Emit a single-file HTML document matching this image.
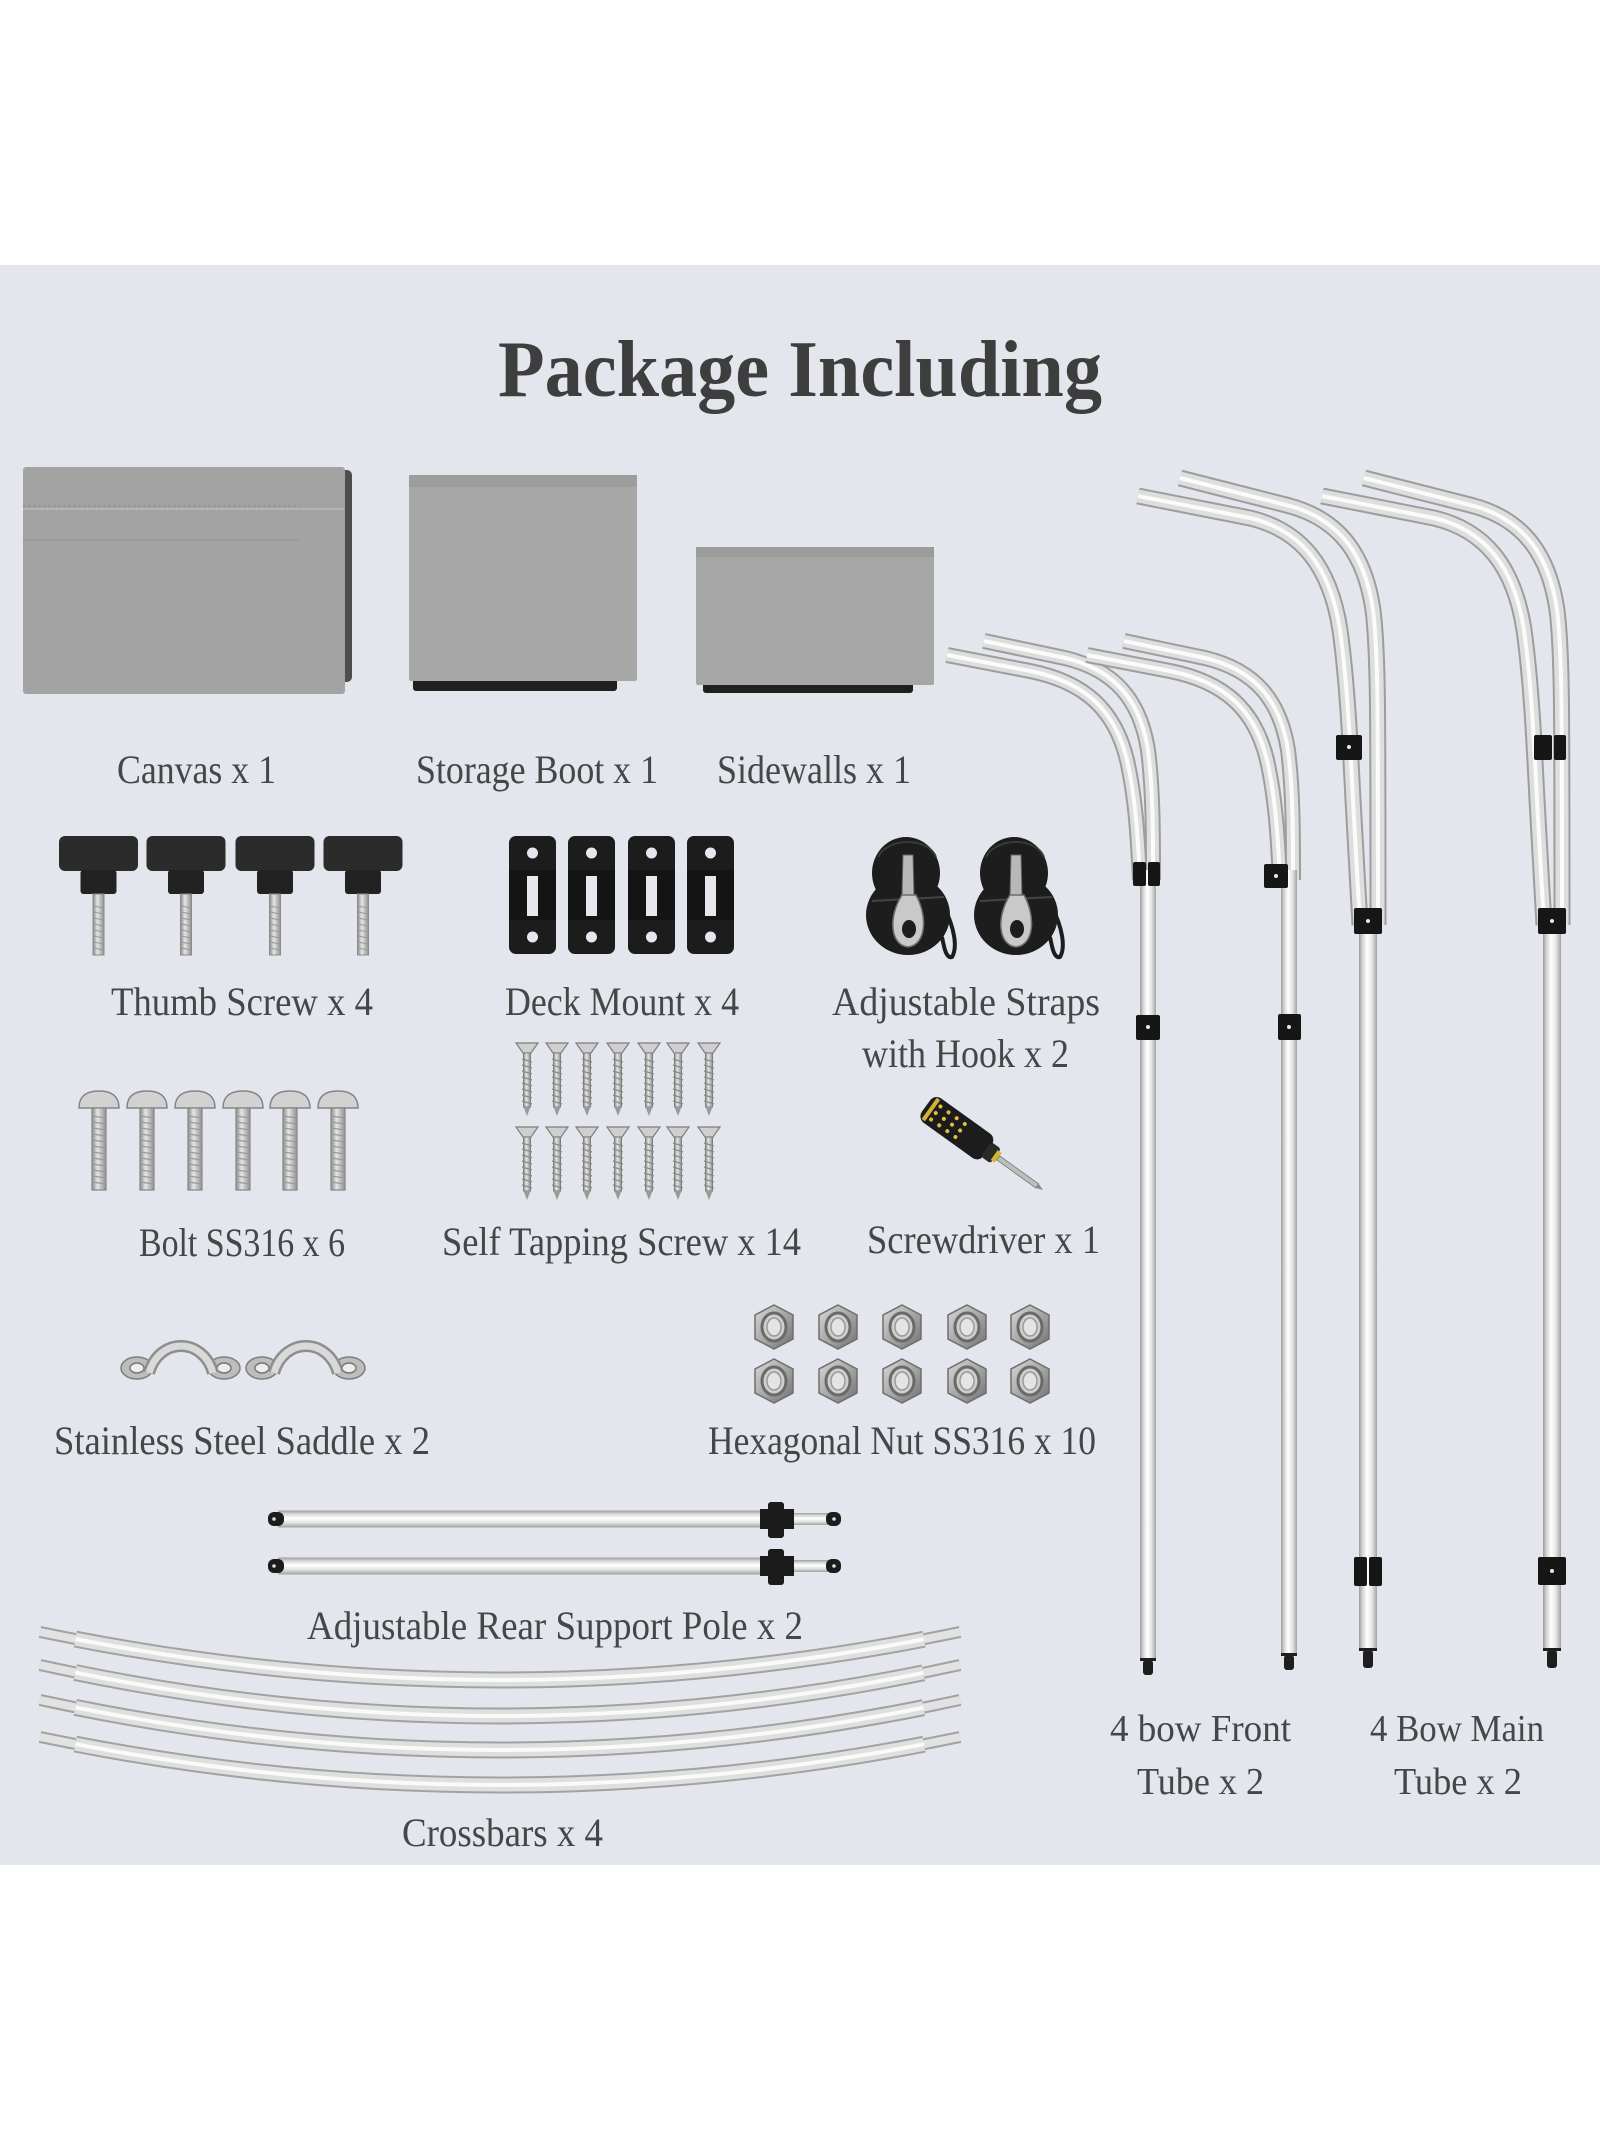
<!DOCTYPE html>
<html>
<head>
<meta charset="utf-8">
<style>
html,body{margin:0;padding:0;background:#ffffff;}
svg{display:block;}
</style>
</head>
<body>
<svg width="1600" height="2133" viewBox="0 0 1600 2133" xmlns="http://www.w3.org/2000/svg">
<defs>
  <linearGradient id="pg" x1="0" y1="0" x2="1" y2="0">
    <stop offset="0" stop-color="#9c9c9c"/>
    <stop offset="0.2" stop-color="#d4d4d4"/>
    <stop offset="0.45" stop-color="#ffffff"/>
    <stop offset="0.72" stop-color="#e4e4e4"/>
    <stop offset="1" stop-color="#a2a2a2"/>
  </linearGradient>
  <linearGradient id="hg" x1="0" y1="0" x2="0" y2="1">
    <stop offset="0" stop-color="#9c9c9c"/>
    <stop offset="0.2" stop-color="#d6d6d6"/>
    <stop offset="0.45" stop-color="#ffffff"/>
    <stop offset="0.72" stop-color="#e2e2e2"/>
    <stop offset="1" stop-color="#a0a0a0"/>
  </linearGradient>
  <linearGradient id="ng" x1="0" y1="0" x2="1" y2="1">
    <stop offset="0" stop-color="#d8d8d8"/>
    <stop offset="0.5" stop-color="#a8a8a8"/>
    <stop offset="1" stop-color="#6f6f6f"/>
  </linearGradient>
  <linearGradient id="sg" x1="0" y1="0" x2="1" y2="0">
    <stop offset="0" stop-color="#8a8a8a"/>
    <stop offset="0.4" stop-color="#e6e6e6"/>
    <stop offset="1" stop-color="#909090"/>
  </linearGradient>

  <!-- tube paths -->
  <path id="i1" d="M984 641 L1065 658 C1115 670 1140 700 1148 750 C1153 790 1153 830 1153 880"/>
  <path id="o1" d="M947 655 L1030 671 C1085 682 1115 710 1127 760 C1136 800 1138 840 1140 880"/>
  <path id="i2" d="M1124 641 L1205 658 C1255 670 1280 700 1288 750 C1293 790 1293 830 1293 880"/>
  <path id="o2" d="M1087 655 L1170 671 C1225 682 1255 710 1267 760 C1276 800 1278 840 1280 880"/>
  <path id="i3" d="M1180 478 L1290 506 C1340 520 1365 555 1373 610 C1378 650 1378 700 1378 925"/>
  <path id="o3" d="M1138 496 L1250 518 C1300 530 1330 565 1340 630 C1347 680 1350 740 1353 800 L1360 925"/>
  <path id="i4" d="M1364 478 L1474 506 C1524 520 1549 555 1557 610 C1562 650 1562 700 1562 925"/>
  <path id="o4" d="M1322 496 L1434 518 C1484 530 1514 565 1524 630 C1531 680 1534 740 1537 800 L1544 925"/>

  <path id="cb1" d="M40 1632 Q500 1728 960 1632"/>
  <path id="cb2" d="M40 1665 Q500 1767 960 1665"/>
  <path id="cb3" d="M40 1700 Q500 1800 960 1700"/>
  <path id="cb4" d="M40 1737 Q500 1833 960 1737"/>

  <!-- self tapping screw -->
  <g id="sts">
    <path d="M-11 0 L11 0 L4 10 L-4 10 Z" fill="#cfcfcf" stroke="#7e7e7e" stroke-width="1.2"/>
    <rect x="-3.5" y="10" width="7" height="54" fill="url(#sg)" stroke="#7e7e7e" stroke-width="1"/>
    <path d="M-5 16 L5 19 M-5 22 L5 25 M-5 28 L5 31 M-5 34 L5 37 M-5 40 L5 43 M-5 46 L5 49 M-5 52 L5 55 M-5 58 L5 61" stroke="#8a8a8a" stroke-width="1.2"/>
    <path d="M-3.5 64 L0 73 L3.5 64 Z" fill="#9a9a9a"/>
  </g>
  <!-- bolt -->
  <g id="bolt">
    <path d="M-20 17 Q-20 0 0 0 Q20 0 20 17 Z" fill="#d2d2d2" stroke="#858585" stroke-width="1.5"/>
    <rect x="-7" y="17" width="14" height="82" fill="url(#sg)" stroke="#858585" stroke-width="1.2"/>
    <path d="M-7 25 L7 27 M-7 31 L7 33 M-7 37 L7 39 M-7 43 L7 45 M-7 49 L7 51 M-7 55 L7 57 M-7 61 L7 63 M-7 67 L7 69 M-7 73 L7 75 M-7 79 L7 81 M-7 85 L7 87 M-7 91 L7 93" stroke="#9a9a9a" stroke-width="1.2"/>
  </g>
  <!-- thumb screw -->
  <g id="ts">
    <rect x="-39.5" y="0" width="79" height="35" rx="6" fill="#2b2b2b"/>
    <rect x="-18" y="34" width="36" height="24" rx="3" fill="#222"/>
    <rect x="-5.5" y="58" width="11" height="61" fill="url(#sg)" stroke="#8a8a8a" stroke-width="1"/>
    <path d="M-5 70 L5 72 M-5 76 L5 78 M-5 82 L5 84 M-5 88 L5 90 M-5 94 L5 96 M-5 100 L5 102 M-5 106 L5 108 M-5 112 L5 114" stroke="#999" stroke-width="1"/>
  </g>
  <!-- deck mount -->
  <g id="dm">
    <rect x="0" y="0" width="47" height="118" rx="7" fill="#1c1c1c"/>
    <rect x="0" y="34" width="47" height="50" fill="#141414"/>
    <circle cx="23.5" cy="17" r="5.5" fill="#e6e7ee"/>
    <circle cx="23.5" cy="101" r="5.5" fill="#e6e7ee"/>
    <rect x="18" y="40" width="11" height="40" fill="#e6e7ee"/>
  </g>
  <!-- nut -->
  <g id="nut">
    <polygon points="0,-22 19,-12 19,12 0,22 -19,12 -19,-12" fill="url(#ng)" stroke="#6e6e6e" stroke-width="1.5"/>
    <ellipse cx="0" cy="0" rx="12" ry="14" fill="#cfcfcf" stroke="#6a6a6a" stroke-width="3"/>
    <ellipse cx="0" cy="0" rx="7" ry="9" fill="#e4e4e4" stroke="#9a9a9a" stroke-width="1.5"/>
  </g>
  <!-- saddle -->
  <g id="sad">
    <ellipse cx="16" cy="25" rx="16" ry="11" fill="#bdbdbd" stroke="#7d7d7d" stroke-width="1.5"/>
    <ellipse cx="103" cy="25" rx="16" ry="11" fill="#bdbdbd" stroke="#7d7d7d" stroke-width="1.5"/>
    <ellipse cx="16" cy="25" rx="7" ry="5" fill="#ededed" stroke="#777" stroke-width="1.5"/>
    <ellipse cx="103" cy="25" rx="7" ry="5" fill="#ededed" stroke="#777" stroke-width="1.5"/>
    <path d="M28 30 C38 -6 82 -6 92 30" fill="none" stroke="#8e8e8e" stroke-width="12"/>
    <path d="M28 30 C38 -6 82 -6 92 30" fill="none" stroke="#d9d9d9" stroke-width="7"/>
  </g>
  <!-- strap -->
  <g id="strap">
    <ellipse cx="0" cy="78" rx="42" ry="40" fill="#1d1d1d"/>
    <ellipse cx="-2" cy="36" rx="34" ry="36" fill="#1d1d1d"/>
    <path d="M-30 20 C-20 0 20 0 28 20" fill="none" stroke="#3a3a3a" stroke-width="2"/>
    <path d="M-36 64 L36 60" stroke="#444" stroke-width="2"/>
    <path d="M-5 18 L5 18 L6 60 L-6 60 Z" fill="#b8b8b8" stroke="#666" stroke-width="1"/>
    <path d="M-6 58 L8 58 C20 80 18 108 0 110 C-18 108 -20 80 -6 58 Z" fill="#c9c9c9" stroke="#6e6e6e" stroke-width="1.5"/>
    <ellipse cx="1" cy="92" rx="7" ry="9" fill="#1d1d1d"/>
    <path d="M36 70 C46 90 50 110 44 120 C38 122 36 110 34 100" fill="none" stroke="#1d1d1d" stroke-width="4"/>
  </g>
</defs>

<!-- backgrounds -->
<rect x="0" y="0" width="1600" height="2133" fill="#ffffff"/>
<rect x="0" y="265" width="1600" height="1600" fill="#e4e6ee"/>

<!-- Title -->
<text x="498" y="396" font-family="'Liberation Serif', serif" font-weight="bold" font-size="80" fill="#3e3e3e" textLength="604" lengthAdjust="spacingAndGlyphs">Package Including</text>

<!-- Canvas -->
<rect x="338" y="470" width="14" height="212" rx="5" fill="#4e4e4e"/>
<rect x="23" y="467" width="322" height="227" rx="3" fill="#a3a3a3"/>
<line x1="23" y1="509" x2="344" y2="509" stroke="#b4b4b4" stroke-width="2"/>
<line x1="23" y1="506" x2="300" y2="506" stroke="#8e8e8e" stroke-width="1" stroke-dasharray="3 2"/>
<line x1="23" y1="540" x2="300" y2="540" stroke="#969696" stroke-width="1"/>

<!-- Storage boot -->
<rect x="413" y="678" width="204" height="13" rx="3" fill="#202020"/>
<rect x="409" y="475" width="228" height="206" rx="2" fill="#a7a7a7"/>
<rect x="409" y="475" width="228" height="12" fill="#9d9d9d"/>

<!-- Sidewalls -->
<rect x="703" y="682" width="210" height="11" rx="3" fill="#202020"/>
<rect x="696" y="547" width="238" height="138" rx="2" fill="#a6a6a6"/>
<rect x="696" y="547" width="238" height="10" fill="#9c9c9c"/>

<!-- Tubes: curved parts -->
<g fill="none" stroke-linecap="butt">
  <use href="#i1" stroke="#9d9d9d" stroke-width="16"/><use href="#i1" stroke="#dedede" stroke-width="12"/><use href="#i1" stroke="#fbfbfb" stroke-width="4"/>
  <use href="#o1" stroke="#9d9d9d" stroke-width="16"/><use href="#o1" stroke="#dedede" stroke-width="12"/><use href="#o1" stroke="#fbfbfb" stroke-width="4"/>
  <use href="#i2" stroke="#9d9d9d" stroke-width="16"/><use href="#i2" stroke="#dedede" stroke-width="12"/><use href="#i2" stroke="#fbfbfb" stroke-width="4"/>
  <use href="#o2" stroke="#9d9d9d" stroke-width="16"/><use href="#o2" stroke="#dedede" stroke-width="12"/><use href="#o2" stroke="#fbfbfb" stroke-width="4"/>
  <use href="#i3" stroke="#9d9d9d" stroke-width="17"/><use href="#i3" stroke="#dedede" stroke-width="13"/><use href="#i3" stroke="#fbfbfb" stroke-width="4"/>
  <use href="#o3" stroke="#9d9d9d" stroke-width="17"/><use href="#o3" stroke="#dedede" stroke-width="13"/><use href="#o3" stroke="#fbfbfb" stroke-width="4"/>
  <use href="#i4" stroke="#9d9d9d" stroke-width="17"/><use href="#i4" stroke="#dedede" stroke-width="13"/><use href="#i4" stroke="#fbfbfb" stroke-width="4"/>
  <use href="#o4" stroke="#9d9d9d" stroke-width="17"/><use href="#o4" stroke="#dedede" stroke-width="13"/><use href="#o4" stroke="#fbfbfb" stroke-width="4"/>
</g>

<!-- Tubes: vertical poles -->
<rect x="1140" y="870" width="16" height="790" fill="url(#pg)"/>
<rect x="1281" y="870" width="16" height="785" fill="url(#pg)"/>
<rect x="1359" y="915" width="18" height="735" fill="url(#pg)"/>
<rect x="1543" y="915" width="18" height="735" fill="url(#pg)"/>

<!-- tips -->
<g fill="#1e1e1e">
  <rect x="1140" y="1658" width="16" height="3"/><rect x="1143" y="1660" width="10" height="15" rx="3"/>
  <rect x="1281" y="1653" width="16" height="3"/><rect x="1284" y="1655" width="10" height="15" rx="3"/>
  <rect x="1359" y="1648" width="18" height="3"/><rect x="1363" y="1650" width="10" height="18" rx="3"/>
  <rect x="1543" y="1648" width="18" height="3"/><rect x="1547" y="1650" width="10" height="18" rx="3"/>
</g>

<!-- clamps -->
<g fill="#161616">
  <rect x="1133" y="862" width="13" height="24" rx="2"/><rect x="1148" y="862" width="12" height="24" rx="2"/>
  <rect x="1136" y="1015" width="24" height="25" rx="2"/>
  <rect x="1264" y="864" width="24" height="24" rx="2"/>
  <rect x="1278" y="1014" width="23" height="26" rx="2"/>
  <rect x="1336" y="735" width="26" height="25" rx="2"/>
  <rect x="1354" y="908" width="28" height="26" rx="2"/>
  <rect x="1354" y="1557" width="13" height="29" rx="2"/><rect x="1369" y="1557" width="13" height="29" rx="2"/>
  <rect x="1534" y="735" width="18" height="25" rx="2"/><rect x="1554" y="735" width="12" height="25" rx="2"/>
  <rect x="1538" y="908" width="28" height="26" rx="2"/>
  <rect x="1538" y="1557" width="28" height="28" rx="2"/>
</g>
<g fill="#e8e8e8">
  <circle cx="1148" cy="1027" r="2"/>
  <circle cx="1276" cy="876" r="2"/>
  <circle cx="1289" cy="1027" r="2"/>
  <circle cx="1349" cy="747" r="2"/>
  <circle cx="1368" cy="921" r="2"/>
  <circle cx="1552" cy="921" r="2"/>
  <circle cx="1552" cy="1571" r="2"/>
</g>

<!-- Labels row 1 -->
<g font-family="'Liberation Serif', serif" font-size="40" fill="#464646">
  <text x="117" y="783" textLength="159" lengthAdjust="spacingAndGlyphs">Canvas x 1</text>
  <text x="416" y="783" textLength="242" lengthAdjust="spacingAndGlyphs">Storage Boot x 1</text>
  <text x="717" y="783" textLength="194" lengthAdjust="spacingAndGlyphs">Sidewalls x 1</text>

  <text x="111" y="1015" textLength="262" lengthAdjust="spacingAndGlyphs">Thumb Screw x 4</text>
  <text x="505" y="1015" textLength="234" lengthAdjust="spacingAndGlyphs">Deck Mount x 4</text>
  <text x="832" y="1015" textLength="268" lengthAdjust="spacingAndGlyphs">Adjustable Straps</text>
  <text x="862" y="1067" textLength="207" lengthAdjust="spacingAndGlyphs">with Hook x 2</text>

  <text x="139" y="1256" textLength="206" lengthAdjust="spacingAndGlyphs">Bolt SS316 x 6</text>
  <text x="442" y="1255" textLength="359" lengthAdjust="spacingAndGlyphs">Self Tapping Screw x 14</text>
  <text x="867" y="1253" textLength="233" lengthAdjust="spacingAndGlyphs">Screwdriver x 1</text>

  <text x="54" y="1454" textLength="376" lengthAdjust="spacingAndGlyphs">Stainless Steel Saddle x 2</text>
  <text x="708" y="1454" textLength="388" lengthAdjust="spacingAndGlyphs">Hexagonal Nut SS316 x 10</text>

  <text x="307" y="1639" textLength="496" lengthAdjust="spacingAndGlyphs">Adjustable Rear Support Pole x 2</text>
  <text x="402" y="1846" textLength="201" lengthAdjust="spacingAndGlyphs">Crossbars x 4</text>
</g>
<g font-family="'Liberation Serif', serif" font-size="38" fill="#464646">
  <text x="1110" y="1741" textLength="181" lengthAdjust="spacingAndGlyphs">4 bow Front</text>
  <text x="1137" y="1794" textLength="127" lengthAdjust="spacingAndGlyphs">Tube x 2</text>
  <text x="1370" y="1741" textLength="174" lengthAdjust="spacingAndGlyphs">4 Bow Main</text>
  <text x="1394" y="1794" textLength="128" lengthAdjust="spacingAndGlyphs">Tube x 2</text>
</g>

<!-- Thumb screws -->
<use href="#ts" transform="translate(98.5,836)"/>
<use href="#ts" transform="translate(186,836)"/>
<use href="#ts" transform="translate(275,836)"/>
<use href="#ts" transform="translate(363,836)"/>

<!-- Deck mounts -->
<use href="#dm" transform="translate(509,836)"/>
<use href="#dm" transform="translate(568,836)"/>
<use href="#dm" transform="translate(628,836)"/>
<use href="#dm" transform="translate(687,836)"/>

<!-- Straps -->
<use href="#strap" transform="translate(908,837)"/>
<use href="#strap" transform="translate(1016,837)"/>

<!-- Bolts -->
<use href="#bolt" transform="translate(99,1091)"/>
<use href="#bolt" transform="translate(147,1091)"/>
<use href="#bolt" transform="translate(195,1091)"/>
<use href="#bolt" transform="translate(243,1091)"/>
<use href="#bolt" transform="translate(290,1091)"/>
<use href="#bolt" transform="translate(338,1091)"/>

<!-- Self tapping screws -->
<use href="#sts" transform="translate(527,1043)"/>
<use href="#sts" transform="translate(557,1043)"/>
<use href="#sts" transform="translate(587,1043)"/>
<use href="#sts" transform="translate(618,1043)"/>
<use href="#sts" transform="translate(649,1043)"/>
<use href="#sts" transform="translate(678,1043)"/>
<use href="#sts" transform="translate(709,1043)"/>
<use href="#sts" transform="translate(527,1127)"/>
<use href="#sts" transform="translate(557,1127)"/>
<use href="#sts" transform="translate(587,1127)"/>
<use href="#sts" transform="translate(618,1127)"/>
<use href="#sts" transform="translate(649,1127)"/>
<use href="#sts" transform="translate(678,1127)"/>
<use href="#sts" transform="translate(709,1127)"/>

<!-- Screwdriver -->
<g transform="translate(926,1106) rotate(35.7)">
  <rect x="0" y="-15" width="76" height="30" rx="8" fill="#1c1c1c"/>
  <g fill="#e0c03a">
    <circle cx="12" cy="-8" r="2"/><circle cx="12" cy="0" r="2"/><circle cx="12" cy="8" r="2"/>
    <circle cx="22" cy="-8" r="2"/><circle cx="22" cy="0" r="2"/><circle cx="22" cy="8" r="2"/>
    <circle cx="32" cy="-8" r="2"/><circle cx="32" cy="0" r="2"/><circle cx="32" cy="8" r="2"/>
    <circle cx="42" cy="-8" r="2"/><circle cx="42" cy="0" r="2"/><circle cx="42" cy="8" r="2"/>
  </g>
  <rect x="4" y="-13" width="4" height="26" fill="#d4b236"/>
  <rect x="74" y="-9" width="12" height="18" rx="3" fill="#2a2a2a"/>
  <rect x="84" y="-6" width="5" height="12" fill="#d7b534"/>
  <rect x="89" y="-2.5" width="48" height="5" fill="#bdbdbd" stroke="#777" stroke-width="0.8"/>
  <path d="M137 -2.5 L144 0 L137 2.5 Z" fill="#888"/>
</g>

<!-- Saddles -->
<use href="#sad" transform="translate(121,1343)"/>
<use href="#sad" transform="translate(246,1343)"/>

<!-- Nuts -->
<use href="#nut" transform="translate(774,1327)"/>
<use href="#nut" transform="translate(838,1327)"/>
<use href="#nut" transform="translate(902,1327)"/>
<use href="#nut" transform="translate(967,1327)"/>
<use href="#nut" transform="translate(1030,1327)"/>
<use href="#nut" transform="translate(774,1381)"/>
<use href="#nut" transform="translate(838,1381)"/>
<use href="#nut" transform="translate(902,1381)"/>
<use href="#nut" transform="translate(967,1381)"/>
<use href="#nut" transform="translate(1030,1381)"/>

<!-- Rear support poles -->
<g>
  <rect x="278" y="1510.5" width="484" height="17" fill="url(#hg)"/>
  <rect x="268" y="1512" width="16" height="14" rx="6" fill="#1c1c1c"/>
  <circle cx="274" cy="1519" r="1.8" fill="#ddd"/>
  <rect x="760" y="1509" width="34" height="20" fill="#1a1a1a"/>
  <rect x="768" y="1502" width="16" height="36" rx="3" fill="#1a1a1a"/>
  <rect x="794" y="1513" width="34" height="12" fill="url(#hg)"/>
  <rect x="826" y="1512" width="15" height="14" rx="6" fill="#1c1c1c"/>
  <circle cx="834" cy="1519" r="1.8" fill="#ddd"/>

  <rect x="278" y="1557.5" width="484" height="17" fill="url(#hg)"/>
  <rect x="268" y="1559" width="16" height="14" rx="6" fill="#1c1c1c"/>
  <circle cx="274" cy="1566" r="1.8" fill="#ddd"/>
  <rect x="760" y="1556" width="34" height="20" fill="#1a1a1a"/>
  <rect x="768" y="1549" width="16" height="36" rx="3" fill="#1a1a1a"/>
  <rect x="794" y="1560" width="34" height="12" fill="url(#hg)"/>
  <rect x="826" y="1559" width="15" height="14" rx="6" fill="#1c1c1c"/>
  <circle cx="834" cy="1566" r="1.8" fill="#ddd"/>
</g>

<!-- Crossbars -->
<g fill="none" stroke-linecap="butt">
  <use href="#cb1" stroke="#a2a2a2" stroke-width="12"/><use href="#cb1" stroke="#e2e2e2" stroke-width="8"/>
  <use href="#cb1" stroke="#a2a2a2" stroke-width="17" stroke-dasharray="854 3000" stroke-dashoffset="-36"/>
  <use href="#cb1" stroke="#dfdfdf" stroke-width="13" stroke-dasharray="854 3000" stroke-dashoffset="-36"/>
  <use href="#cb1" stroke="#fafafa" stroke-width="4" stroke-dasharray="854 3000" stroke-dashoffset="-36"/>

  <use href="#cb2" stroke="#a2a2a2" stroke-width="12"/><use href="#cb2" stroke="#e2e2e2" stroke-width="8"/>
  <use href="#cb2" stroke="#a2a2a2" stroke-width="17" stroke-dasharray="854 3000" stroke-dashoffset="-36"/>
  <use href="#cb2" stroke="#dfdfdf" stroke-width="13" stroke-dasharray="854 3000" stroke-dashoffset="-36"/>
  <use href="#cb2" stroke="#fafafa" stroke-width="4" stroke-dasharray="854 3000" stroke-dashoffset="-36"/>

  <use href="#cb3" stroke="#a2a2a2" stroke-width="12"/><use href="#cb3" stroke="#e2e2e2" stroke-width="8"/>
  <use href="#cb3" stroke="#a2a2a2" stroke-width="17" stroke-dasharray="854 3000" stroke-dashoffset="-36"/>
  <use href="#cb3" stroke="#dfdfdf" stroke-width="13" stroke-dasharray="854 3000" stroke-dashoffset="-36"/>
  <use href="#cb3" stroke="#fafafa" stroke-width="4" stroke-dasharray="854 3000" stroke-dashoffset="-36"/>

  <use href="#cb4" stroke="#a2a2a2" stroke-width="12"/><use href="#cb4" stroke="#e2e2e2" stroke-width="8"/>
  <use href="#cb4" stroke="#a2a2a2" stroke-width="17" stroke-dasharray="854 3000" stroke-dashoffset="-36"/>
  <use href="#cb4" stroke="#dfdfdf" stroke-width="13" stroke-dasharray="854 3000" stroke-dashoffset="-36"/>
  <use href="#cb4" stroke="#fafafa" stroke-width="4" stroke-dasharray="854 3000" stroke-dashoffset="-36"/>
</g>
</svg>
</body>
</html>
